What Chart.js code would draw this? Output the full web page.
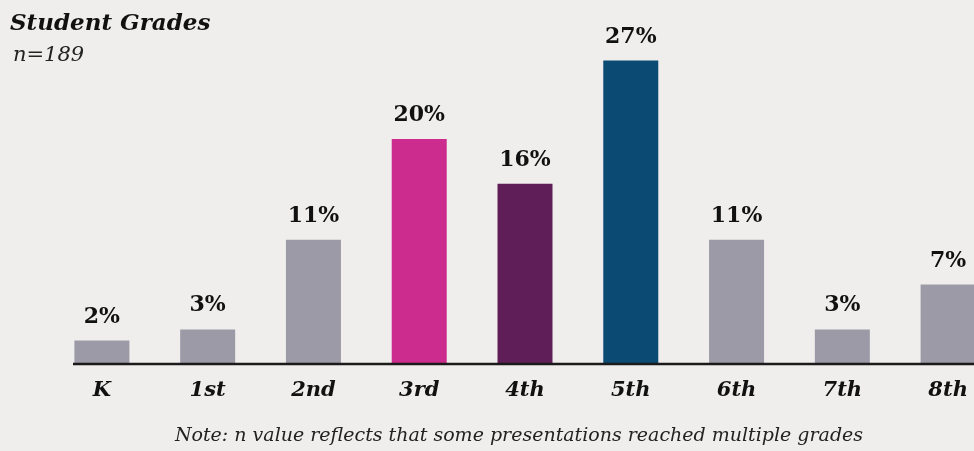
<!DOCTYPE html>
<html>
<head>
<meta charset="utf-8">
<script src="https://cdn.jsdelivr.net/npm/chart.js@4/dist/chart.umd.min.js"></script>
<style>
    html, body {
        margin: 0;
        padding: 0;
        width: 974px;
        height: 451px;
        overflow: hidden;
        background: #efeeed;
    }
    .wrap {
        position: relative;
        width: 974px;
        height: 451px;
        overflow: hidden;
    }
    #chart-box {
        position: absolute;
        left: 0;
        top: 0;
        width: 1001px;
        height: 451px;
    }
    .title {
        position: absolute;
        left: 10px;
        top: 8px;
        font-family: "DejaVu Serif", serif;
        font-weight: bold;
        font-style: italic;
        font-size: 23px;
        color: #111;
    }
    .subtitle {
        position: absolute;
        left: 13px;
        top: 42px;
        font-family: "DejaVu Serif", serif;
        font-style: italic;
        font-size: 21px;
        color: #222;
    }
    .note {
        position: absolute;
        left: 0;
        width: 1038px;
        top: 423px;
        text-align: center;
        font-family: "DejaVu Serif", serif;
        font-style: italic;
        font-size: 19px;
        color: #222;
    }
</style>
</head>
<body>
<div class="wrap">
    <div id="chart-box"><canvas id="gradesChart"></canvas></div>
    <div class="title">Student Grades</div>
    <div class="subtitle">n=189</div>
    <div class="note">Note: n value reflects that some presentations reached multiple grades</div>
</div>

<script>
// Données
const grades = ['K', '1st', '2nd', '3rd', '4th', '5th', '6th', '7th', '8th'];
const percents = [2, 3, 11, 20, 16, 27, 11, 3, 7];
const barColors = ['#9b9aa6', '#9b9aa6', '#9b9aa6', '#cd2c8f', '#5f1e57', '#0b4a73', '#9b9aa6', '#9b9aa6', '#9b9aa6'];

// Etiquettes au-dessus des barres
const valueLabels = {
    id: 'valueLabels',
    afterDatasetsDraw(chart) {
        const ctx = chart.ctx;
        const meta = chart.getDatasetMeta(0);
        ctx.save();
        ctx.font = 'bold 22px "DejaVu Serif", serif';
        ctx.fillStyle = '#111';
        ctx.textAlign = 'center';
        ctx.textBaseline = 'alphabetic';
        meta.data.forEach((bar, i) => {
            ctx.fillText(percents[i] + '%', bar.x, bar.y - 18);
        });
        ctx.restore();
    }
};

// Ligne de l'axe
const axisLine = {
    id: 'axisLine',
    afterDatasetsDraw(chart) {
        const ctx = chart.ctx;
        const area = chart.chartArea;
        ctx.save();
        ctx.strokeStyle = '#1a1a1a';
        ctx.lineWidth = 2.5;
        ctx.beginPath();
        ctx.moveTo(area.left + 24, area.bottom + 1);
        ctx.lineTo(area.right, area.bottom + 1);
        ctx.stroke();
        ctx.restore();
    }
};

document.addEventListener('DOMContentLoaded', function () {
    const ctx = document.getElementById('gradesChart');
    new Chart(ctx.getContext('2d'), {
        type: 'bar',
        data: {
            labels: grades,
            datasets: [{
                data: percents,
                backgroundColor: barColors,
                barPercentage: 0.52,
                categoryPercentage: 1.0
            }]
        },
        options: {
            responsive: true,
            maintainAspectRatio: false,
            animation: false,
            layout: {
                padding: { left: 49, right: 0, top: 27, bottom: 0 }
            },
            plugins: {
                legend: { display: false },
                tooltip: { enabled: false }
            },
            scales: {
                y: {
                    display: false,
                    min: 0,
                    max: 30
                },
                x: {
                    grid: { display: false },
                    border: { display: false },
                    ticks: {
                        color: '#111',
                        padding: 7,
                        font: { family: '"DejaVu Serif", serif', size: 21, weight: 'bold', style: 'italic' }
                    },
                    afterFit: function (scale) {
                        scale.height = 88;
                    }
                }
            }
        },
        plugins: [valueLabels, axisLine]
    });
});
</script>
</body>
</html>
